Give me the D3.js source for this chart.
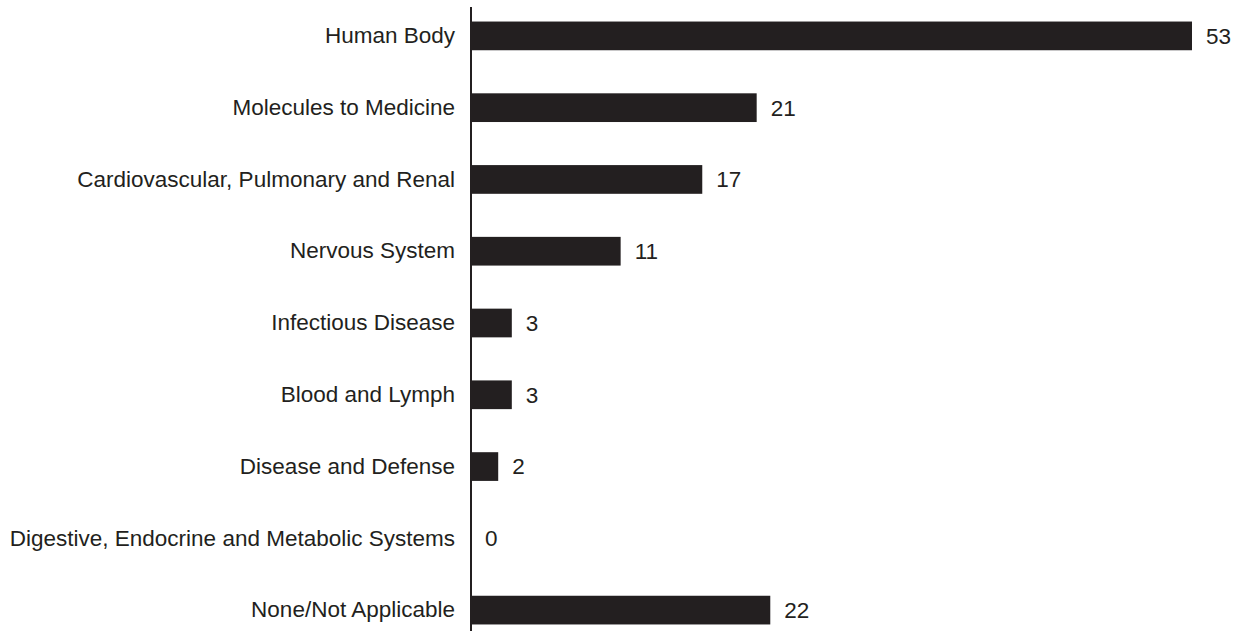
<!DOCTYPE html>
<html>
<head>
<meta charset="utf-8">
<script src="https://cdn.jsdelivr.net/npm/d3@7"></script>
<style>
  html, body { margin: 0; padding: 0; background: #fff; }
  svg { display: block; }
  text { font-family: "Liberation Sans", Arial, sans-serif; fill: #231f20; }
</style>
</head>
<body>
<svg id="chart" width="1239" height="631"></svg>
<script>
// Number of items per category
const categories = [
  "Human Body",
  "Molecules to Medicine",
  "Cardiovascular, Pulmonary and Renal",
  "Nervous System",
  "Infectious Disease",
  "Blood and Lymph",
  "Disease and Defense",
  "Digestive, Endocrine and Metabolic Systems",
  "None/Not Applicable"
];
const counts = [53, 21, 17, 11, 3, 3, 2, 0, 22];

const svg = d3.select("#chart");
const axisX = 471;
const fontSize = 22.5;

const y = d3.scaleBand()
  .domain(categories)
  .range([0, 646])
  .paddingInner(0.6)
  .paddingOuter(0.3);

const x = d3.scaleLinear()
  .domain([0, 53])
  .range([axisX, 1192]);

const rows = categories.map((c, i) => ({ name: c, value: counts[i] }));

// bars
svg.append("g")
  .selectAll("rect")
  .data(rows)
  .join("rect")
  .attr("x", x(0))
  .attr("y", d => y(d.name))
  .attr("width", d => x(d.value) - x(0))
  .attr("height", y.bandwidth())
  .attr("fill", "#231f20");

// category axis
const axis = d3.axisLeft(y).tickSize(0).tickPadding(16);
const gAxis = svg.append("g")
  .attr("transform", `translate(${axisX},0)`)
  .call(axis);
gAxis.select(".domain").remove();
gAxis.selectAll("text")
  .attr("font-size", fontSize)
  .attr("font-family", "Liberation Sans, Arial, sans-serif")
  .attr("fill", "#231f20");

svg.append("line")
  .attr("x1", axisX).attr("x2", axisX)
  .attr("y1", 7).attr("y2", 631)
  .attr("stroke", "#231f20")
  .attr("stroke-width", 2);

// value labels
svg.append("g")
  .selectAll("text")
  .data(rows)
  .join("text")
  .attr("x", d => x(d.value) + 14)
  .attr("y", d => y(d.name) + y.bandwidth() / 2)
  .attr("dy", "0.35em")
  .attr("font-size", fontSize)
  .text(d => d.value);
</script>
</body>
</html>
